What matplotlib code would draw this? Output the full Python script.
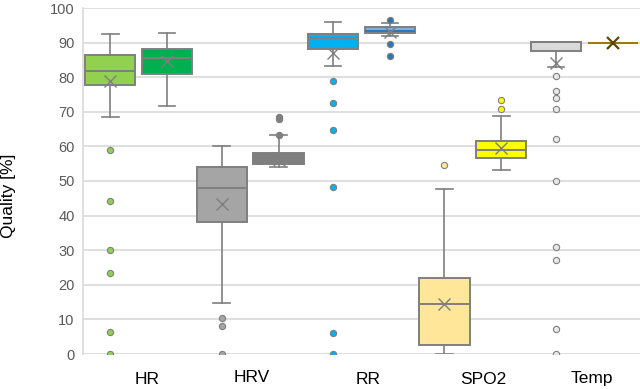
import matplotlib
matplotlib.use("Agg")
import matplotlib.pyplot as plt

plt.rcParams['font.family'] = ['Liberation Sans', 'DejaVu Sans']

categories = ["HR", "HRV", "RR", "SPO2", "Temp"]

# two boxes per category (first / second)
q1 =     [77.7, 80.9, 38.2, 54.8, 88.2, 92.7, 2.7, 56.7, 87.7, 90.0]
med =    [81.9, 85.5, 47.9, 56.5, 91.2, 93.4, 14.5, 59.1, 90.1, 90.0]
q3 =     [86.4, 88.2, 54.1, 58.2, 92.5, 94.4, 22.1, 61.6, 90.1, 90.0]
whislo = [68.4, 71.7, 14.7, 54.1, 83.1, 92.0, 0.1, 53.2, 83.0, 90.0]
whishi = [92.5, 92.8, 60.2, 63.2, 95.9, 95.6, 47.6, 68.8, 90.3, 90.0]
means =  [78.9, 84.7, 43.4, 56.0, 87.1, 93.0, 14.5, 59.5, 84.0, 90.0]
fliers = [
    [58.9, 44.3, 30.1, 23.5, 6.4, 0.1],
    [],
    [10.5, 8.2, 0.0],
    [63.4, 68.6, 68.0],
    [78.9, 72.6, 64.7, 48.2, 6.0, 0.0],
    [96.5, 89.5, 86.2],
    [54.6],
    [73.5, 70.8],
    [80.4, 76.1, 74.1, 70.8, 62.1, 49.9, 30.8, 27.2, 7.2, 0.0],
    [],
]

face_colors = ['#92D050', '#00B050', '#A5A5A5', '#7F7F7F', '#00B0F0',
               '#8FAACC', '#FFE699', '#FFFF00', '#D9D9D9', '#BF9000']
flier_colors = ['#92D050', '#00B050', '#A5A5A5', '#7F7F7F', '#00B0F0',
                '#2E75B6', '#FFE699', '#FFFF00', '#E8E8E8', '#BF9000']
median_colors = ['#7F7F7F'] * 5 + ['#2E75B6'] + ['#7F7F7F'] * 3 + ['#9C7A00']
edge_colors = ['#7F7F7F'] * 9 + ['#9C7A00']

fig = plt.figure(figsize=(6.4, 3.89), dpi=100)
ax = fig.add_axes([83 / 640, 35 / 389, 557 / 640, 346 / 389])

stats = []
positions = []
for i in range(len(q1)):
    stats.append(dict(q1=q1[i], med=med[i], q3=q3[i], whislo=whislo[i],
                      whishi=whishi[i], mean=means[i], fliers=fliers[i]))
    positions.append(i // 2 + (-0.255 if i % 2 == 0 else 0.255))

grey = '#7F7F7F'
res = ax.bxp(stats, positions=positions, widths=0.45, capwidths=0.15,
             patch_artist=True, showmeans=True, showfliers=True,
             boxprops=dict(edgecolor=grey, linewidth=1.4),
             whiskerprops=dict(color=grey, linewidth=1.2),
             capprops=dict(color=grey, linewidth=1.2),
             medianprops=dict(color=grey, linewidth=1.4),
             meanprops=dict(marker='x', markeredgecolor=grey, markersize=9,
                            markeredgewidth=1.0, linestyle='none'),
             flierprops=dict(marker='o', markersize=4.5, markeredgecolor=grey,
                             markeredgewidth=0.8, linestyle='none'))

for i, b in enumerate(res['boxes']):
    b.set_facecolor(face_colors[i])
    b.set_edgecolor(edge_colors[i])
    b.set_zorder(2)
for i, f in enumerate(res['fliers']):
    f.set_markerfacecolor(flier_colors[i])
    f.set_zorder(3)
for i, m in enumerate(res['medians']):
    m.set_color(median_colors[i])
    m.set_zorder(3)
for i, m in enumerate(res['means']):
    m.set_zorder(4)
    if i == 9:
        m.set_markeredgecolor('#5C4600')
        m.set_markersize(9)
        m.set_markeredgewidth(1.6)
res['boxes'][9].set_linewidth(1.2)
res['medians'][9].set_linewidth(1.2)

ax.set_xlim(-0.5, 4.5)
ax.set_ylim(0, 100)
ax.set_yticks(range(0, 101, 10))
ax.yaxis.grid(True, color='#D9D9D9', linewidth=1.2)
ax.set_axisbelow(True)
for s in ['top', 'right', 'bottom']:
    ax.spines[s].set_visible(False)
ax.spines['left'].set_color('#D9D9D9')
ax.spines['left'].set_linewidth(1.2)
ax.tick_params(axis='y', length=0, labelsize=10.5, labelcolor='#595959', pad=6)
ax.tick_params(axis='x', length=0)
ax.set_xticks([])

label_offsets = [0.076, 0.018, 0.063, 0.09, 0.072]
label_y = [-0.075, -0.068, -0.075, -0.075, -0.072]
for i, c in enumerate(categories):
    ax.text(i + label_offsets[i], label_y[i], c, transform=ax.get_xaxis_transform(),
            ha='center', va='center', fontsize=12.5, color='black')

fig.text(9 / 640, 1 - 196 / 389, 'Quality [%]', rotation=90, ha='center',
         va='center', fontsize=12.5, color='black')

fig.savefig('out.png', dpi=100)
